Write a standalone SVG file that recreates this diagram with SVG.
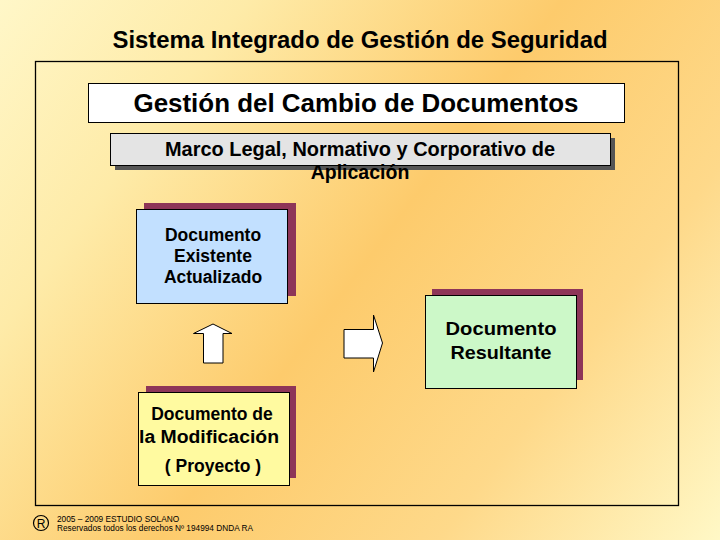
<svg xmlns="http://www.w3.org/2000/svg" width="720" height="540" viewBox="0 0 720 540">
<defs>
<linearGradient id="bg" x1="0" y1="0" x2="720" y2="540" gradientUnits="userSpaceOnUse">
<stop offset="0" stop-color="#FFF7C8"/>
<stop offset="0.22" stop-color="#FEEBA8"/>
<stop offset="0.5" stop-color="#FDCB6C"/>
<stop offset="0.75" stop-color="#FED98A"/>
<stop offset="1" stop-color="#FFF8C6"/>
</linearGradient>
<style>
text{font-family:"Liberation Sans",Arial,sans-serif;fill:#000;text-anchor:middle}
.b{font-weight:bold}
.box{stroke:#000;stroke-width:1}
.sh{fill:#8E3558}
.arrow{fill:#fff;stroke:#000;stroke-width:1}
.ft{font-size:8.3px;text-anchor:start}
</style>
</defs>
<rect width="720" height="540" fill="url(#bg)"/>
<text class="b" x="360" y="48" font-size="23.5" textLength="495" lengthAdjust="spacingAndGlyphs">Sistema Integrado de Gestión de Seguridad</text>
<rect x="35.5" y="61.5" width="643" height="444" fill="none" stroke="#000" stroke-width="1.3"/>
<g id="title">
<rect class="box" x="88.5" y="83.5" width="536" height="39" fill="#fff"/>
<text class="b" x="356" y="112" font-size="26" textLength="445" lengthAdjust="spacingAndGlyphs">Gestión del Cambio de Documentos</text>
</g>
<g id="marco">
<rect x="115" y="138" width="500" height="32" fill="#555"/>
<rect class="box" x="110.5" y="133.5" width="500" height="32" fill="#E4E4E4"/>
<text class="b" x="360" y="156" font-size="19.5" textLength="390" lengthAdjust="spacingAndGlyphs">Marco Legal, Normativo y Corporativo de</text>
<text class="b" x="360" y="179" font-size="19.5">Aplicación</text>
</g>
<g id="existente">
<rect class="sh" x="144" y="203" width="152" height="93"/>
<rect class="box" x="136.5" y="209.5" width="151" height="94" fill="#C2E0FF"/>
<text class="b" x="213" y="241" font-size="17.5">Documento</text>
<text class="b" x="213" y="262" font-size="17.5">Existente</text>
<text class="b" x="213" y="283" font-size="17.5">Actualizado</text>
</g>
<g id="resultante">
<rect class="sh" x="432" y="289" width="151" height="91"/>
<rect class="box" x="425.5" y="295.5" width="151" height="93" fill="#CCF8C8"/>
<text class="b" x="501" y="335" font-size="18.5" textLength="111" lengthAdjust="spacingAndGlyphs">Documento</text>
<text class="b" x="501" y="359" font-size="18.5" textLength="101" lengthAdjust="spacingAndGlyphs">Resultante</text>
</g>
<g id="modificacion">
<rect class="sh" x="146" y="386" width="150" height="92"/>
<rect class="box" x="138.5" y="392.5" width="151" height="93" fill="#FFFAA0"/>
<text class="b" x="212" y="420" font-size="17.5">Documento de</text>
<text class="b" x="209" y="443" font-size="18" textLength="140" lengthAdjust="spacingAndGlyphs">la Modificación</text>
<text class="b" x="213" y="472" font-size="17.5">( Proyecto )</text>
</g>
<g id="connectors">
<polygon class="arrow" points="213,324 232,333.5 223,333.5 223,363 203.5,363 203.5,333.5 193.5,333.5"/>
<polygon class="arrow" points="344,329.5 373.5,329.5 373.5,315 382.5,343 373.5,372 373.5,358 344,358"/>
</g>
<g id="footer">
<circle cx="41" cy="523" r="7.5" fill="none" stroke="#000" stroke-width="1.2"/>
<text x="41" y="527.5" font-size="12">R</text>
<text class="ft" x="57" y="522">2005 – 2009  ESTUDIO SOLANO</text>
<text class="ft" x="57" y="531" textLength="196" lengthAdjust="spacingAndGlyphs">Reservados todos los derechos  Nº 194994 DNDA  RA</text>
</g>
</svg>
